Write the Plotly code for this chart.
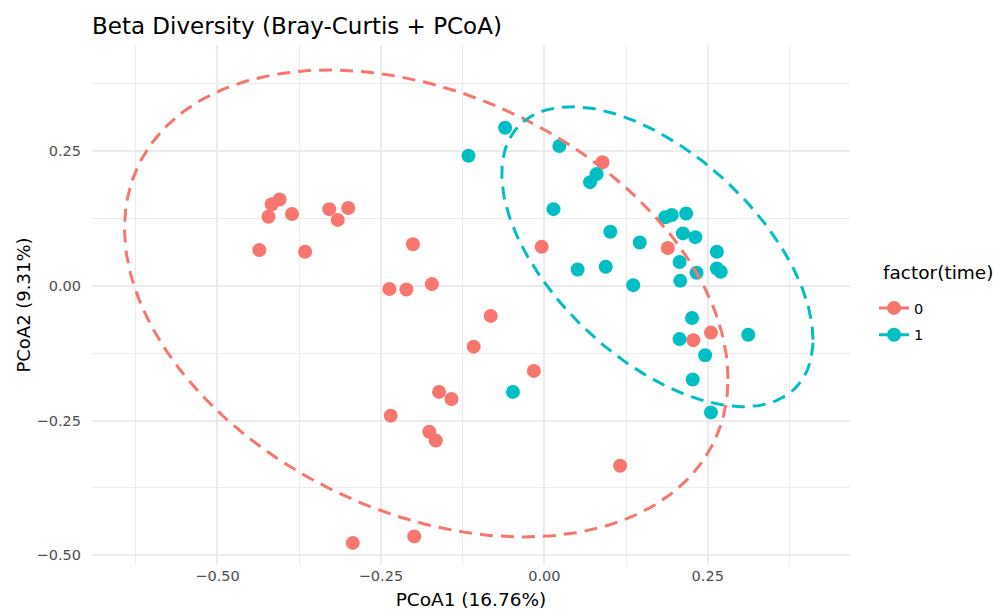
import numpy as np
import plotly.graph_objects as go

# PCoA coordinates of the samples, split by time point
pc1_t0 = [-0.436, -0.422, -0.417, -0.405, -0.386, -0.366, -0.329, -0.316, -0.300,
          -0.201, -0.237, -0.211, -0.172, -0.082, -0.108, -0.016, -0.161, -0.142,
          -0.235, -0.176, -0.166, 0.116, -0.293, -0.199, 0.089, -0.004, 0.189,
          0.228, 0.255]
pc2_t0 = [0.066, 0.128, 0.151, 0.160, 0.133, 0.063, 0.142, 0.122, 0.144,
          0.077, -0.006, -0.007, 0.003, -0.056, -0.113, -0.158, -0.197, -0.210,
          -0.241, -0.271, -0.287, -0.334, -0.477, -0.465, 0.229, 0.072, 0.070,
          -0.101, -0.087]

pc1_t1 = [-0.060, -0.116, 0.023, 0.080, 0.070, 0.014, 0.185, 0.195, 0.217,
          0.101, 0.212, 0.231, 0.146, 0.264, 0.207, 0.051, 0.094, 0.233,
          0.264, 0.270, 0.208, 0.136, 0.226, 0.207, 0.312, 0.246, 0.227,
          0.255, -0.048]
pc2_t1 = [0.293, 0.241, 0.259, 0.207, 0.192, 0.142, 0.127, 0.131, 0.134,
          0.100, 0.097, 0.090, 0.080, 0.063, 0.044, 0.030, 0.035, 0.024,
          0.032, 0.026, 0.009, 0.001, -0.060, -0.099, -0.091, -0.129, -0.174,
          -0.235, -0.197]

groups = ["0", "1"]
colors = ["#F8766D", "#00BFC4"]

# 95% confidence ellipses: centre, half-extent along each axis, correlation
ell_cx = [-0.1806, 0.1730]
ell_cy = [-0.0330, 0.0538]
ell_sx = [0.4617, 0.2381]
ell_sy = [0.4330, 0.2782]
ell_rho = [-0.323, -0.553]

x_ticks = [-0.50, -0.25, 0.00, 0.25]
y_ticks = [-0.50, -0.25, 0.00, 0.25]
x_tick_text = ["\u22120.50", "\u22120.25", "0.00", "0.25"]
y_tick_text = ["\u22120.50", "\u22120.25", "0.00", "0.25"]

FONT = "DejaVu Sans"

fig = go.Figure()

pts = [(pc1_t0, pc2_t0), (pc1_t1, pc2_t1)]
for (px, py), col in zip(pts, colors):
    fig.add_trace(go.Scatter(
        x=px, y=py, mode="markers",
        marker=dict(size=14, color=col, line=dict(width=0)),
        showlegend=False, hoverinfo="x+y"))


def ellipse_path(cx, cy, sx, sy, rho, n=240):
    cov = np.array([[sx * sx, rho * sx * sy], [rho * sx * sy, sy * sy]])
    chol = np.linalg.cholesky(cov)
    t = np.linspace(0, 2 * np.pi, n)
    circ = np.vstack([np.cos(t), np.sin(t)])
    pts_ = chol @ circ
    return cx + pts_[0], cy + pts_[1]


for i, col in enumerate(colors):
    ex, ey = ellipse_path(ell_cx[i], ell_cy[i], ell_sx[i], ell_sy[i], ell_rho[i])
    fig.add_trace(go.Scatter(
        x=ex, y=ey, mode="lines",
        line=dict(color=col, width=3, dash="13px,8px"),
        showlegend=False, hoverinfo="skip"))

# legend keys (point over dashed path, as in the grouped layers)
for g, col in zip(groups, colors):
    fig.add_trace(go.Scatter(
        x=[None], y=[None], mode="lines+markers", name=g, legendgroup=g,
        marker=dict(size=14, color=col),
        line=dict(color=col, width=3, dash="13px,8px")))

# legend heading
fig.add_annotation(text="factor(time)", xref="paper", yref="paper",
                   x=(881 - 92) / (850 - 92), y=(611 - 46 - 272) / (611 - 45 - 46),
                   xanchor="left", yanchor="middle", showarrow=False,
                   font=dict(family=FONT, size=18.5, color="#000000"))

grid = "#EBEBEB"
fig.update_layout(
    width=993, height=611,
    margin=dict(l=92, r=143, t=45, b=46),
    paper_bgcolor="white", plot_bgcolor="white",
    font=dict(family=FONT, color="#000000"),
    title=dict(text="Beta Diversity (Bray-Curtis + PCoA)",
               font=dict(family=FONT, size=23, color="#000000"),
               x=92 / 993, xanchor="left", xref="container",
               y=1 - 26 / 611, yanchor="middle", yref="container"),
    xaxis=dict(range=[-0.692, 0.4677], tickvals=x_ticks, ticktext=x_tick_text,
               showgrid=True, gridcolor=grid, gridwidth=1.7,
               minor=dict(dtick=0.125, tick0=0, showgrid=True, gridcolor=grid, gridwidth=1.3),
               zeroline=False, showline=False, ticks="",
               tickfont=dict(family=FONT, size=14.5, color="#4D4D4D"),
               title=dict(text="PCoA1 (16.76%)", font=dict(family=FONT, size=18.5, color="#000000"),
                          standoff=10),
               automargin=False, fixedrange=True),
    yaxis=dict(range=[-0.518, 0.4464], tickvals=y_ticks, ticktext=y_tick_text,
               showgrid=True, gridcolor=grid, gridwidth=1.7,
               minor=dict(dtick=0.125, tick0=0, showgrid=True, gridcolor=grid, gridwidth=1.3),
               zeroline=False, showline=False, ticks="", ticklabelstandoff=10,
               tickfont=dict(family=FONT, size=14.5, color="#4D4D4D"),
               title=dict(text="PCoA2 (9.31%)", font=dict(family=FONT, size=18, color="#000000"),
                          standoff=1),
               automargin=False, fixedrange=True),
    legend=dict(font=dict(family=FONT, size=14.5, color="#000000"),
                xref="container", yref="container",
                x=874 / 993, xanchor="left", y=1 - 292 / 611, yanchor="top",
                itemwidth=30, tracegroupgap=5, bgcolor="rgba(0,0,0,0)"),
)

fig.write_html("out.html")
